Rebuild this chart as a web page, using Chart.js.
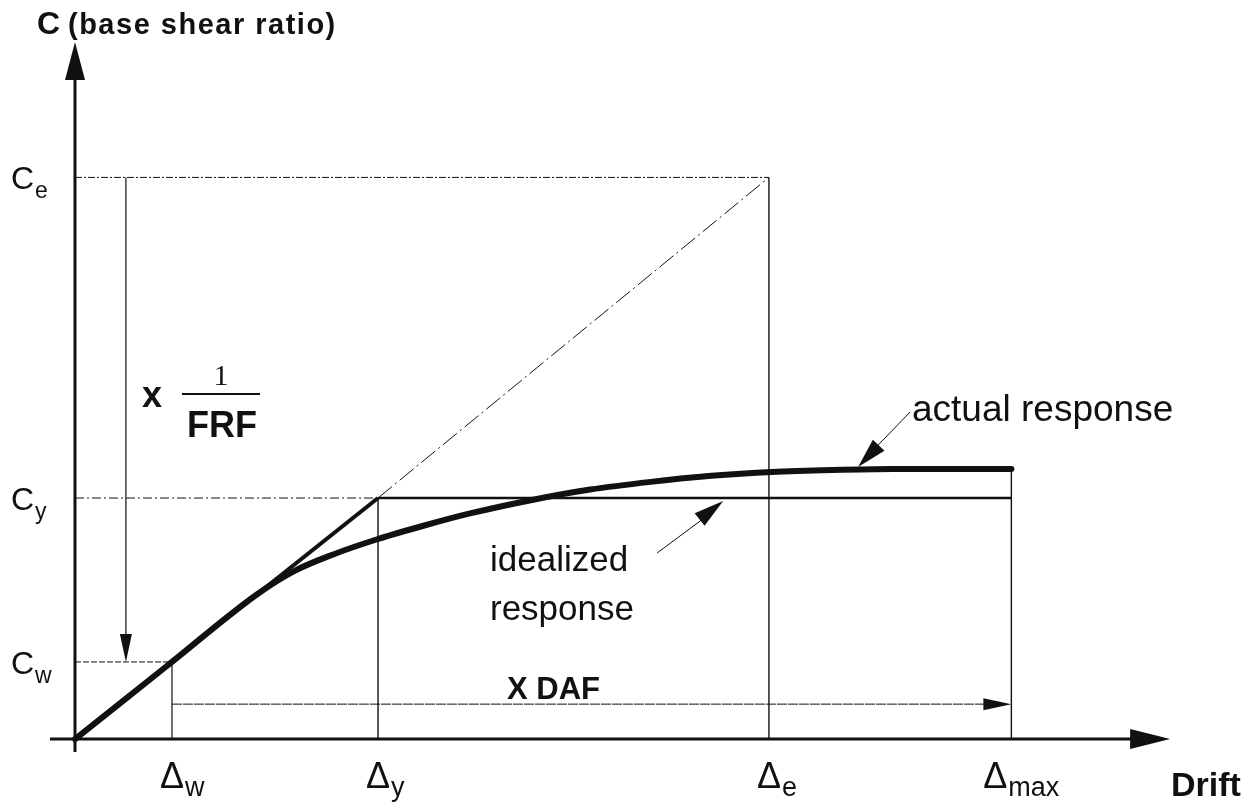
<!DOCTYPE html>
<html>
<head>
<meta charset="utf-8">
<title>Base shear ratio vs drift</title>
<script src="https://cdn.jsdelivr.net/npm/chart.js@4"></script>
<style>
    body { margin: 0; background: #fff; }
    #wrap { width: 1254px; height: 802px; position: relative; }
</style>
</head>
<body>
<div id="wrap"><canvas id="driftChart"></canvas></div>
<script>
// drift levels marked on the horizontal axis
const driftKeys = ["w", "y", "e", "max"];
const driftValues = [0.32, 1.0, 2.29, 3.09];

// base shear ratios marked on the vertical axis
const shearKeys = ["w", "y", "e"];
const shearValues = [0.32, 1.0, 2.33];

// idealized (bilinear) response
const idealDrift = [0, 1.0, 3.09];
const idealShear = [0, 1.0, 1.0];

// actual response curve
const actualDrift = [0, 0.3, 0.6, 0.72, 0.85, 1.0, 1.15, 1.3, 1.5, 1.7, 1.9, 2.1, 2.3, 2.5, 2.7, 3.09];
const actualShear = [0, 0.3, 0.6, 0.695, 0.765, 0.83, 0.885, 0.935, 0.99, 1.035, 1.067, 1.092, 1.108, 1.116, 1.12, 1.12];

// where the factor arrows sit
const frfDrift = 0.168;
const dafShear = 0.145;

const INK = "#111";
const FONT = "'Liberation Sans', Arial, sans-serif";

function pts(xs, ys) {
    return xs.map((x, i) => ({ x: x, y: ys[i] }));
}

function line(data, width, dash, extra) {
    return Object.assign({
        data: data,
        showLine: true,
        borderColor: INK,
        borderWidth: width,
        borderDash: dash || [],
        pointRadius: 0,
        fill: false,
        clip: false
    }, extra || {});
}

const Dw = driftValues[0], Dy = driftValues[1], De = driftValues[2], Dmax = driftValues[3];
const Cw = shearValues[0], Cy = shearValues[1], Ce = shearValues[2];
const Cend = actualShear[actualShear.length - 1];

const datasets = [
    // axes
    line([{ x: -0.0825, y: 0 }, { x: 3.5, y: 0 }], 3),
    line([{ x: 0, y: -0.054 }, { x: 0, y: 2.78 }], 3),
    // guide lines to the axes
    line([{ x: 0, y: Ce }, { x: De, y: Ce }], 1, [7, 2, 2, 2]),
    line([{ x: 0, y: Cy }, { x: Dy, y: Cy }], 1, [9, 3, 2, 3]),
    line([{ x: 0, y: Cw }, { x: Dw, y: Cw }], 1, [6, 2]),
    line([{ x: Dw, y: 0 }, { x: Dw, y: Cw }], 1.2),
    line([{ x: Dy, y: 0 }, { x: Dy, y: Cy }], 1.4),
    line([{ x: De, y: 0 }, { x: De, y: Ce }], 1.4),
    line([{ x: Dmax, y: 0 }, { x: Dmax, y: Cend }], 1.4),
    // elastic extension up to Ce
    line([{ x: Dy, y: Cy }, { x: De, y: Ce }], 1, [18, 4, 2, 4]),
    // factor arrows
    line([{ x: frfDrift, y: Ce }, { x: frfDrift, y: Cw + 0.08 }], 1.2),
    line([{ x: Dw, y: dafShear }, { x: Dmax - 0.08, y: dafShear }], 1, [10, 1]),
    // responses
    line(pts(idealDrift.slice(0, 2), idealShear.slice(0, 2)), 4),
    line(pts(idealDrift.slice(1), idealShear.slice(1)), 2.5),
    line(pts(actualDrift, actualShear), 6, [], { cubicInterpolationMode: "monotone", borderCapStyle: "round" }),
    // leaders for the curve names
    line([{ x: 2.756, y: 1.357 }, { x: 2.62, y: 1.18 }], 1),
    line([{ x: 1.921, y: 0.772 }, { x: 2.09, y: 0.93 }], 1)
];

function arrowHead(ctx, tip, from, len, half) {
    const a = Math.atan2(tip[1] - from[1], tip[0] - from[0]);
    ctx.save();
    ctx.translate(tip[0], tip[1]);
    ctx.rotate(a);
    ctx.beginPath();
    ctx.moveTo(0, 0);
    ctx.lineTo(-len, -half);
    ctx.lineTo(-len, half);
    ctx.closePath();
    ctx.fill();
    ctx.restore();
}

// main letter followed by a lowered subscript
function subText(ctx, main, sub, x, y, mainSize, subSize, drop) {
    ctx.font = mainSize + "px " + FONT;
    ctx.fillText(main, x, y);
    const w = ctx.measureText(main).width;
    ctx.font = subSize + "px " + FONT;
    ctx.fillText(sub, x + w + 1, y + drop);
}

const diagramPlugin = {
    id: "diagram",
    afterDatasetsDraw(chart) {
        const ctx = chart.ctx;
        const xs = chart.scales.x, ys = chart.scales.y;
        const P = (x, y) => [xs.getPixelForValue(x), ys.getPixelForValue(y)];
        ctx.save();
        ctx.fillStyle = INK;
        ctx.textBaseline = "alphabetic";

        // axis arrows
        arrowHead(ctx, P(0, 2.892), P(0, 0), 38, 10);
        arrowHead(ctx, P(3.614, 0), P(0, 0), 40, 10);
        // factor arrows
        arrowHead(ctx, P(frfDrift, Cw), P(frfDrift, Ce), 28, 6);
        arrowHead(ctx, P(Dmax, dafShear), P(Dw, dafShear), 28, 6);
        // leader arrows
        arrowHead(ctx, P(2.584, 1.129), P(2.756, 1.357), 30, 8);
        arrowHead(ctx, P(2.139, 0.988), P(1.921, 0.772), 30, 8);

        // title of the vertical axis
        ctx.textAlign = "left";
        ctx.font = "bold 32px " + FONT;
        ctx.fillText("C", 37, 34);
        ctx.font = "bold 29px " + FONT;
        ctx.letterSpacing = "1.5px";
        ctx.fillText("(base shear ratio)", 68, 34);
        ctx.letterSpacing = "0px";

        // C labels on the vertical axis
        shearKeys.forEach((k, i) => {
            const p = P(0, shearValues[i]);
            subText(ctx, "C", k, 11, p[1] + 12, 32, 23, 9);
        });

        // Δ labels under the horizontal axis
        driftKeys.forEach((k, i) => {
            const p = P(driftValues[i], 0);
            ctx.font = "36px " + FONT;
            const w = ctx.measureText("\u0394").width;
            const x0 = k === "max" ? p[0] - w - 4 : p[0] - w / 2;
            subText(ctx, "\u0394", k, x0, p[1] + 49, 36, 27, 8);
        });

        ctx.font = "bold 34px " + FONT;
        ctx.fillText("Drift", 1171, 796);

        // 1/FRF factor
        ctx.font = "bold 36px " + FONT;
        ctx.fillText("x", 142, 407);
        ctx.textAlign = "center";
        ctx.font = "30px 'Liberation Serif', serif";
        ctx.fillText("1", 221, 385);
        ctx.fillRect(182, 393, 78, 2);
        ctx.font = "bold 36px " + FONT;
        ctx.fillText("FRF", 222, 437);

        // DAF factor
        ctx.textAlign = "left";
        ctx.font = "bold 31px " + FONT;
        ctx.fillText("X DAF", 507, 699);

        // curve names
        ctx.font = "37px " + FONT;
        ctx.fillText("actual response", 912, 421);
        ctx.font = "35px " + FONT;
        ctx.fillText("idealized", 490, 571);
        ctx.fillText("response", 490, 620);

        ctx.restore();
    }
};

new Chart(document.getElementById("driftChart"), {
    type: "scatter",
    data: { datasets: datasets },
    options: {
        responsive: true,
        maintainAspectRatio: false,
        animation: false,
        layout: { padding: { left: 50, right: 79, top: 40, bottom: 47 } },
        scales: {
            x: { type: "linear", min: -0.0825, max: 3.63, display: false },
            y: { type: "linear", min: -0.066, max: 2.9, display: false }
        },
        plugins: {
            legend: { display: false },
            tooltip: { enabled: false }
        }
    },
    plugins: [diagramPlugin]
});
</script>
</body>
</html>
